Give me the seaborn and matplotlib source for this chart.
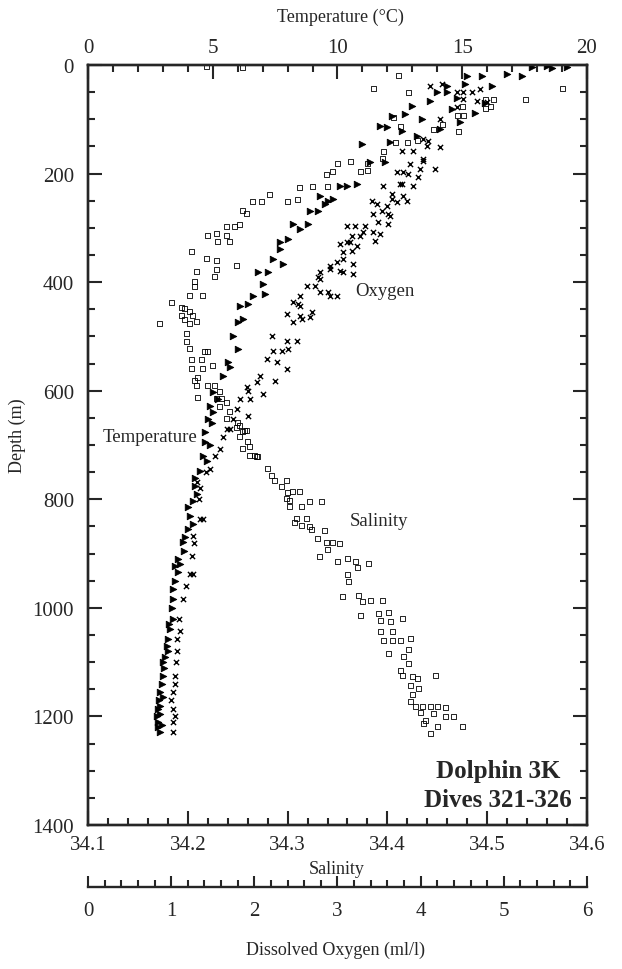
import matplotlib
matplotlib.use("Agg")
import matplotlib.pyplot as plt
import seaborn as sns
from matplotlib.ticker import MultipleLocator

# Temperature (deg C) vs depth (m) - filled symbols
temp_depth = [2, 4, 4, 6, 17, 20, 20, 20, 35, 39, 39, 50, 50, 60, 66, 70, 76, 81, 88, 90,
              94, 100, 105, 112, 114, 118, 122, 130, 142, 146, 179, 179, 219, 223, 223, 241,
              247, 251, 256, 269, 269, 293, 293, 302, 320, 326, 339, 357, 367, 381, 381, 403,
              422, 425, 440, 444, 468, 473, 499, 523, 547, 556, 573, 602, 615, 628, 640, 652,
              660, 676, 694, 700, 720, 730, 748, 760, 775, 790, 803, 815, 831, 845, 855, 870,
              879, 895, 910, 919, 923, 934, 950, 965, 984, 1000, 1020, 1030, 1039, 1057, 1070,
              1079, 1090, 1100, 1110, 1125, 1140, 1155, 1165, 1170, 1180, 1186, 1195, 1200,
              1210, 1215, 1220, 1229]
temp_value = [18.4, 17.8, 19.2, 18.6, 16.8, 17.4, 15.8, 15.2, 15.1, 14.4, 16.2, 14.4, 14.0,
              14.8, 13.7, 15.9, 13.0, 14.6, 15.5, 12.7, 12.2, 13.4, 14.9, 11.7, 12.0, 14.1,
              12.6, 13.2, 12.1, 11.0, 11.9, 11.3, 10.8, 10.1, 10.4, 9.3, 9.8, 9.6, 9.5, 9.2,
              8.9, 8.8, 8.2, 8.5, 8.0, 7.7, 7.7, 7.4, 7.8, 7.2, 6.8, 7.0, 7.1, 6.6, 6.4, 6.1,
              6.2, 6.0, 5.8, 6.0, 5.6, 5.7, 5.4, 5.0, 5.2, 4.9, 5.0, 4.8, 4.95, 4.7, 4.7, 4.9,
              4.6, 4.75, 4.5, 4.3, 4.3, 4.35, 4.2, 4.0, 4.1, 4.2, 4.0, 3.9, 3.8, 3.85, 3.6,
              3.7, 3.5, 3.6, 3.5, 3.4, 3.4, 3.35, 3.4, 3.25, 3.3, 3.2, 3.15, 3.2, 3.1, 3.0,
              3.05, 3.0, 2.95, 2.9, 3.0, 2.85, 2.9, 2.8, 2.9, 2.75, 2.8, 2.95, 2.8, 2.9]

# Dissolved oxygen (ml/l) vs depth (m) - crosses
oxy_depth = [35, 39, 44, 50, 50, 50, 63, 66, 68, 77, 99, 136, 140, 149, 151, 158, 158, 173,
             177, 182, 192, 192, 197, 197, 201, 206, 219, 219, 223, 223, 238, 241, 247, 251,
             251, 252, 256, 260, 269, 274, 274, 278, 289, 293, 297, 297, 297, 308, 308, 311,
             315, 315, 324, 326, 326, 330, 333, 343, 344, 357, 363, 367, 370, 376, 379, 381,
             381, 385, 391, 394, 407, 407, 418, 418, 425, 425, 425, 437, 440, 444, 455, 459,
             462, 464, 468, 473, 499, 508, 508, 523, 527, 527, 542, 547, 560, 573, 582, 584,
             593, 600, 606, 615, 615, 634, 647, 652, 670, 670, 685, 707, 720, 744, 750, 768,
             780, 800, 836, 836, 868, 880, 904, 938, 938, 960, 984, 1020, 1043, 1057, 1079,
             1100, 1125, 1140, 1155, 1170, 1186, 1200, 1210, 1229]
oxy_value = [4.26, 4.11, 4.71, 4.51, 4.62, 4.44, 4.51, 4.68, 4.80, 4.44, 4.23, 4.03, 4.09,
             4.08, 4.23, 3.91, 3.78, 4.03, 4.03, 3.87, 3.99, 4.17, 3.72, 3.79, 3.85, 3.97,
             3.78, 3.75, 3.91, 3.55, 3.66, 3.79, 3.66, 3.84, 3.41, 3.72, 3.47, 3.60, 3.54,
             3.61, 3.43, 3.63, 3.49, 3.61, 3.11, 3.33, 3.21, 3.31, 3.43, 3.51, 3.17, 3.27,
             3.45, 3.11, 3.15, 3.03, 3.23, 3.17, 3.07, 3.07, 2.99, 3.19, 2.91, 2.91, 3.03,
             3.07, 2.79, 3.19, 2.77, 2.79, 2.63, 2.73, 2.79, 2.89, 2.91, 2.55, 2.99, 2.46,
             2.53, 2.55, 2.69, 2.39, 2.55, 2.67, 2.57, 2.46, 2.21, 2.39, 2.51, 2.40, 2.22,
             2.33, 2.15, 2.27, 2.39, 2.07, 2.25, 2.03, 1.91, 1.92, 2.10, 1.83, 1.95, 1.79,
             1.92, 1.74, 1.71, 1.67, 1.62, 1.59, 1.53, 1.47, 1.42, 1.31, 1.35, 1.33, 1.35,
             1.38, 1.26, 1.28, 1.25, 1.26, 1.23, 1.18, 1.14, 1.10, 1.11, 1.07, 1.07, 1.06,
             1.05, 1.04, 1.02, 1.00, 1.02, 1.05, 1.02, 1.02]

# Salinity vs depth (m) - open squares
sal_depth = [2, 4, 20, 44, 50, 63, 63, 63, 44, 81, 77, 77, 94, 94, 109, 123, 118, 114, 96,
             142, 142, 140, 160, 173, 182, 177, 182, 197, 195, 197, 201, 223, 223, 225, 238,
             251, 252, 252, 247, 269, 274, 297, 293, 298, 311, 315, 315, 326, 326, 344, 357,
             361, 376, 389, 370, 381, 398, 409, 425, 425, 437, 446, 462, 462, 477, 477, 495,
             449, 455, 468, 473, 510, 523, 527, 527, 542, 542, 554, 560, 560, 575, 582, 591,
             591, 591, 602, 612, 615, 615, 621, 630, 639, 652, 658, 665, 667, 674, 674, 676,
             685, 694, 702, 707, 720, 720, 722, 722, 744, 757, 766, 766, 777, 785, 785, 787,
             799, 803, 805, 805, 814, 814, 836, 836, 842, 849, 851, 855, 858, 873, 879, 879,
             882, 892, 906, 910, 915, 915, 919, 925, 938, 952, 978, 980, 987, 987, 989, 1008,
             1011, 1015, 1020, 1024, 1026, 1043, 1043, 1057, 1061, 1061, 1061, 1076, 1085,
             1089, 1103, 1116, 1125, 1125, 1127, 1131, 1144, 1149, 1159, 1173, 1181, 1181,
             1181, 1181, 1183, 1192, 1195, 1201, 1201, 1208, 1214, 1218, 1219, 1232]
sal_value = [34.219, 34.255, 34.411, 34.386, 34.421, 34.498, 34.506, 34.538, 34.575, 34.498,
             34.503, 34.475, 34.470, 34.476, 34.455, 34.471, 34.446, 34.413, 34.406, 34.408,
             34.420, 34.430, 34.396, 34.395, 34.380, 34.363, 34.350, 34.373, 34.380, 34.345,
             34.339, 34.325, 34.340, 34.312, 34.282, 34.265, 34.274, 34.300, 34.310, 34.255,
             34.259, 34.247, 34.252, 34.239, 34.229, 34.239, 34.220, 34.230, 34.242, 34.204,
             34.219, 34.229, 34.229, 34.227, 34.249, 34.209, 34.207, 34.207, 34.215, 34.202,
             34.184, 34.194, 34.194, 34.205, 34.172, 34.202, 34.199, 34.197, 34.202, 34.197,
             34.209, 34.199, 34.202, 34.220, 34.217, 34.204, 34.214, 34.225, 34.204, 34.215,
             34.210, 34.207, 34.220, 34.209, 34.227, 34.232, 34.210, 34.229, 34.234, 34.239,
             34.232, 34.242, 34.239, 34.250, 34.252, 34.249, 34.259, 34.257, 34.255, 34.252,
             34.260, 34.262, 34.255, 34.262, 34.267, 34.269, 34.270, 34.280, 34.284, 34.287,
             34.299, 34.294, 34.305, 34.312, 34.300, 34.299, 34.302, 34.322, 34.334, 34.302,
             34.314, 34.309, 34.319, 34.307, 34.314, 34.322, 34.324, 34.337, 34.330, 34.339,
             34.345, 34.352, 34.340, 34.332, 34.360, 34.350, 34.368, 34.381, 34.370, 34.360,
             34.361, 34.371, 34.355, 34.383, 34.395, 34.375, 34.401, 34.391, 34.373, 34.415,
             34.393, 34.403, 34.393, 34.405, 34.423, 34.396, 34.405, 34.413, 34.421, 34.401,
             34.416, 34.421, 34.413, 34.415, 34.448, 34.425, 34.430, 34.423, 34.431, 34.425,
             34.423, 34.428, 34.435, 34.443, 34.450, 34.458, 34.433, 34.446, 34.458, 34.466,
             34.438, 34.436, 34.450, 34.475, 34.443]

depth_ticks = [0, 200, 400, 600, 800, 1000, 1200, 1400]

sns.set_style("ticks")
plt.rcParams['font.family'] = ['Liberation Serif', 'DejaVu Serif']
plt.rcParams['axes.linewidth'] = 1.7

fig = plt.figure(figsize=(6.22, 9.70), dpi=100)
ax = fig.add_axes([0.1415, 0.1485, 0.8022, 0.7835])
ax_t = ax.twiny()
ax_o = ax.twiny()

# salinity on the bottom axis
sns.scatterplot(x=sal_value, y=sal_depth, ax=ax, marker='s', s=13,
                facecolor='none', edgecolor='black', linewidth=0.6)
# temperature on the top axis
sns.scatterplot(x=temp_value, y=temp_depth, ax=ax_t, marker='>', s=22,
                color='black', edgecolor='black', linewidth=0.6)
# oxygen on a hidden twin axis, scale shown below
sns.scatterplot(x=oxy_value, y=oxy_depth, ax=ax_o, marker='x', s=14,
                color='black', linewidth=1.0)

ax.set_xlim(34.1, 34.6)
ax_t.set_xlim(0, 20)
ax_o.set_xlim(0, 6)
ax.set_ylim(1400, 0)
ax_o.axis('off')

ax.set_yticks(depth_ticks)
ax.yaxis.set_minor_locator(MultipleLocator(50))
ax.xaxis.set_minor_locator(MultipleLocator(0.02))
ax.set_xticks([34.1, 34.2, 34.3, 34.4, 34.5, 34.6])
ax.set_xticklabels(['34.1', '34.2', '34.3', '34.4', '34.5', '34.6'])
ax.tick_params(axis='y', which='both', direction='in', left=True, right=True,
               width=1.5, labelsize=15, pad=10)
ax.tick_params(axis='x', which='both', direction='in', top=False, bottom=True,
               width=1.5, labelsize=15, pad=7)
ax.tick_params(which='major', length=10)
ax.tick_params(which='minor', length=5)

ax_t.xaxis.set_major_locator(MultipleLocator(5))
ax_t.xaxis.set_minor_locator(MultipleLocator(1))
ax_t.tick_params(axis='x', which='both', direction='in', top=True, bottom=False,
                 width=1.5, labelsize=15, pad=6)
ax_t.tick_params(which='major', length=10)
ax_t.tick_params(which='minor', length=5)

ax.set_ylabel('Depth (m)', fontsize=13)
ax.yaxis.set_label_coords(-0.124, 0.514)
ax.set_xlabel('Salinity', fontsize=13)
ax.xaxis.set_label_coords(0.499, -0.046)
ax_t.set_xlabel('Temperature (\u00b0C)', fontsize=13)
ax_t.xaxis.set_label_coords(0.505, 1.058)

# separate dissolved oxygen scale under the plot
ax_ox = fig.add_axes([0.1415, 1 - 888 / 970, 0.8022, 0.0001])
ax_ox.set_xlim(0, 6)
ax_ox.set_yticks([])
ax_ox.patch.set_visible(False)
for side in ['top', 'left', 'right']:
    ax_ox.spines[side].set_visible(False)
ax_ox.xaxis.set_major_locator(MultipleLocator(1))
ax_ox.xaxis.set_minor_locator(MultipleLocator(0.2))
ax_ox.tick_params(axis='x', which='both', direction='in', width=1.5, labelsize=15, pad=10)
ax_ox.tick_params(which='major', length=8)
ax_ox.tick_params(which='minor', length=5)
fig.text(0.540, 1 - 950 / 970, 'Dissolved Oxygen (ml/l)', fontsize=13,
         ha='center', va='center')

# curve labels
ax.text(0.030, 0.511, 'Temperature', transform=ax.transAxes, fontsize=13.5,
        ha='left', va='center')
ax.text(0.535, 0.703, 'Oxygen', transform=ax.transAxes, fontsize=13.5,
        ha='left', va='center')
ax.text(0.525, 0.401, 'Salinity', transform=ax.transAxes, fontsize=13.5,
        ha='left', va='center')
ax.text(0.822, 0.071, 'Dolphin 3K', transform=ax.transAxes, fontsize=18,
        fontweight='bold', ha='center', va='center')
ax.text(0.822, 0.034, 'Dives 321-326', transform=ax.transAxes, fontsize=18,
        fontweight='bold', ha='center', va='center')

fig.savefig('out.png', dpi=100)
